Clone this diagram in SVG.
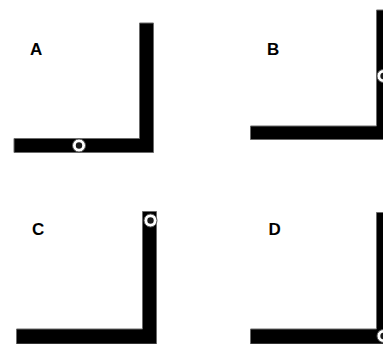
<svg xmlns="http://www.w3.org/2000/svg" width="383" height="344" viewBox="0 0 383 344">
<style>
.bar{fill:#000;stroke:#6b6b6b;stroke-width:1}
.ring{fill:#fff;stroke:#555;stroke-width:1}
.core{fill:#1a1a1a}
.lbl{font-family:"Liberation Sans",Arial,sans-serif;font-weight:bold;font-size:17px;fill:#000}
</style>
<rect width="383" height="344" fill="#fff"/>
<g id="panelA">
<path class="bar" d="M14,138.5 H139.5 V23 H153.5 V152.5 H14 Z"/>
<circle class="ring" cx="79" cy="145.5" r="6.5"/>
<circle class="core" cx="79" cy="145.5" r="3.2"/>
<text class="lbl" x="30" y="55">A</text>
</g>
<g id="panelB">
<path class="bar" d="M250.5,126 H376.5 V10 H391 V139.5 H250.5 Z"/>
<circle class="ring" cx="383.5" cy="76" r="6.5"/>
<circle class="core" cx="383.5" cy="76" r="3.2"/>
<text class="lbl" x="267" y="55">B</text>
</g>
<g id="panelC">
<path class="bar" d="M16.5,329 H142.5 V211.5 H156.5 V344 H16.5 Z"/>
<circle class="ring" cx="150.5" cy="220.5" r="6.5"/>
<circle class="core" cx="150.5" cy="220.5" r="3.2"/>
<text class="lbl" x="32" y="235">C</text>
</g>
<g id="panelD">
<path class="bar" d="M250.5,329 H376.5 V212.5 H391 V344 H250.5 Z"/>
<circle class="ring" cx="383.5" cy="336" r="6.5"/>
<circle class="core" cx="383.5" cy="336" r="3.2"/>
<text class="lbl" x="268.5" y="235">D</text>
</g>
<g id="connectors"></g>
</svg>
